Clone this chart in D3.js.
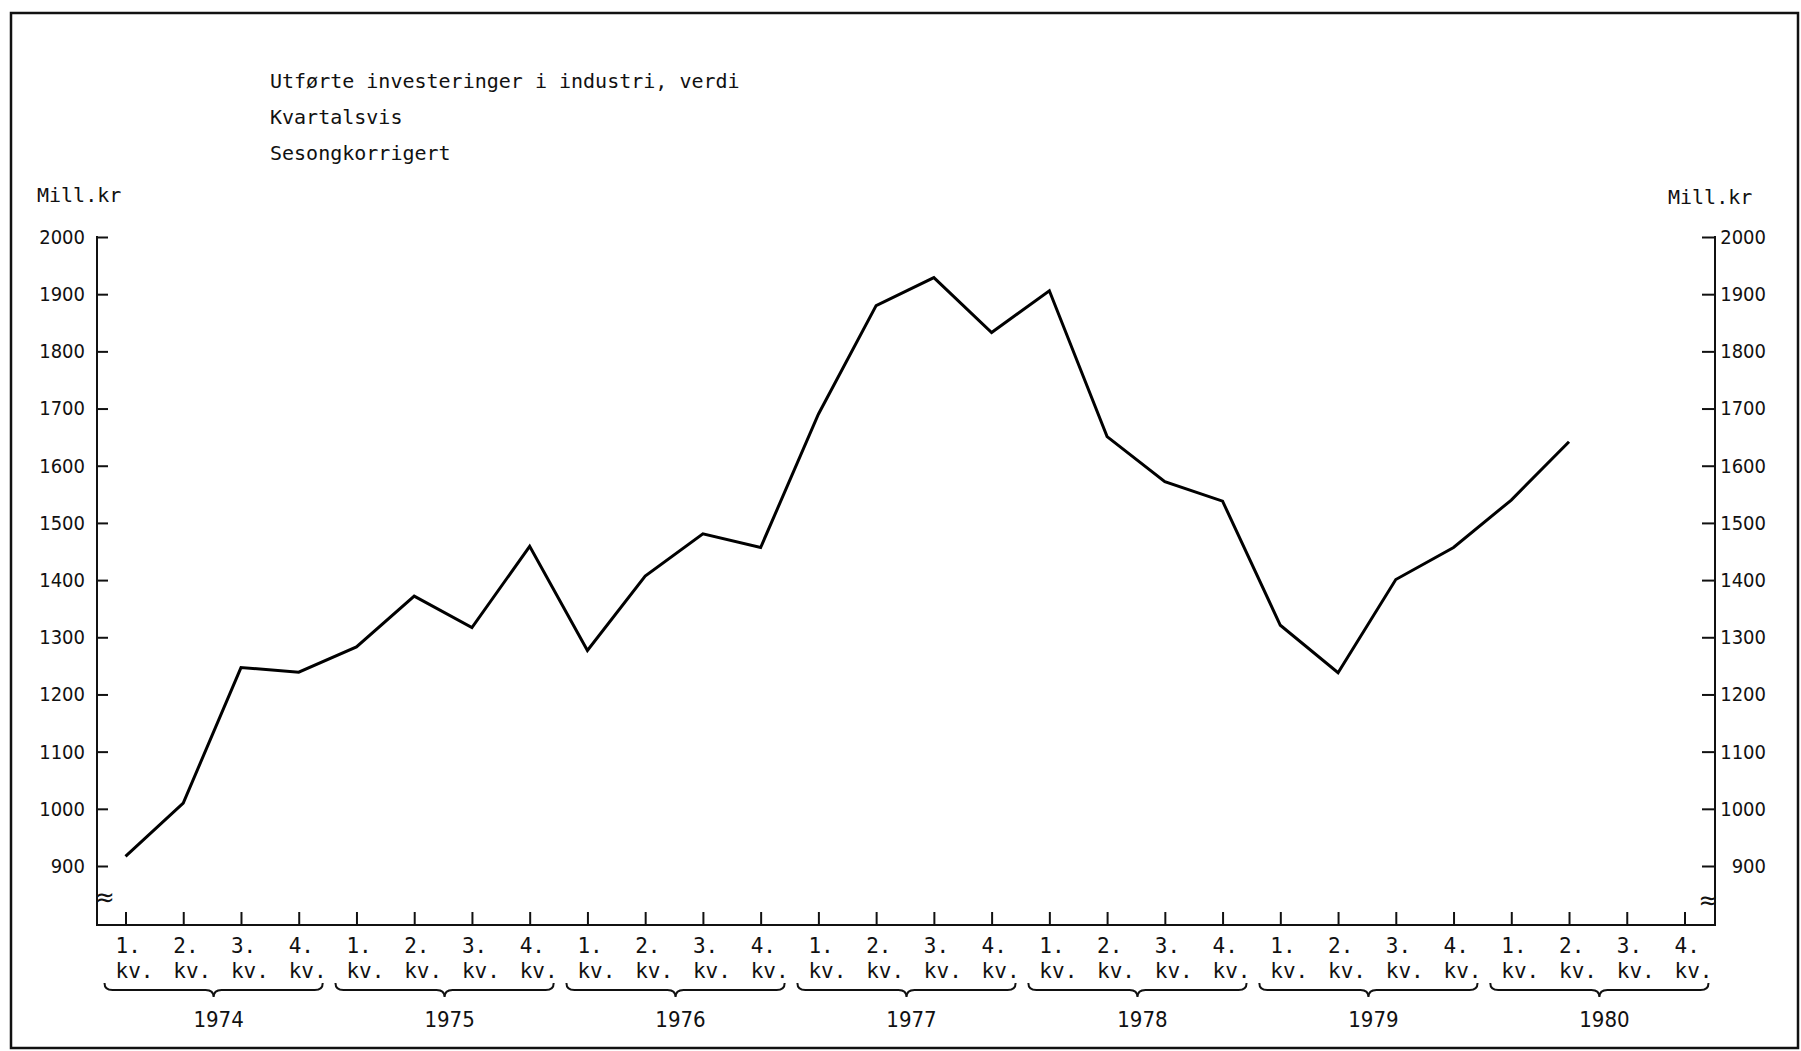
<!DOCTYPE html>
<html>
<head>
<meta charset="utf-8">
<script src="https://cdn.jsdelivr.net/npm/d3@7"></script>
<style>
  body { margin: 0; background: #fff; }
  .mono { font-family: 'DejaVu Sans Mono', 'Liberation Mono', monospace; fill: #111; }
  .cond { font-family: 'DejaVu Sans Condensed', 'DejaVu Sans', sans-serif; font-stretch: condensed; fill: #111; }
</style>
</head>
<body>
<script>
var years = ['1974', '1975', '1976', '1977', '1978', '1979', '1980'];
var quarters = ['1.', '2.', '3.', '4.'];
// Mill. kr per quarter, seasonally adjusted (last two quarters of 1980 missing)
var values1974 = [917, 1010, 1247, 1239];
var values1975 = [1283, 1372, 1317, 1459];
var values1976 = [1277, 1407, 1481, 1457];
var values1977 = [1690, 1880, 1929, 1833];
var values1978 = [1906, 1651, 1572, 1538];
var values1979 = [1321, 1238, 1401, 1457];
var values1980 = [1540, 1642, null, null];
var yTicks = [900, 1000, 1100, 1200, 1300, 1400, 1500, 1600, 1700, 1800, 1900, 2000];
var titleLines = ['Utførte investeringer i industri, verdi', 'Kvartalsvis', 'Sesongkorrigert'];

var allValues = [values1974, values1975, values1976, values1977, values1978, values1979, values1980];
var data = [];
years.forEach(function (yr, i) {
  quarters.forEach(function (q, j) {
    data.push({ key: yr + '-' + (j + 1), year: yr, q: q, value: allValues[i][j] });
  });
});

var svg = d3.select('body').append('svg').attr('width', 1801).attr('height', 1051);

var leftX = 97;
var rightX = 1715;
var baseY = 925;

var xScale = d3.scalePoint().domain(data.map(function (d) { return d.key; })).range([125.5, 1684.5]);
var yScale = d3.scaleLinear().domain([900, 2000]).range([866, 237]);

// frame
svg.append('rect')
  .attr('x', 11).attr('y', 13).attr('width', 1787).attr('height', 1035)
  .attr('fill', 'none').attr('stroke', '#111').attr('stroke-width', 2.5);

// titles
svg.selectAll('.title')
  .data(titleLines)
  .enter()
  .append('text')
  .attr('class', 'mono')
  .attr('x', 270)
  .attr('y', function (d, i) { return 88 + i * 36; })
  .attr('font-size', '20px')
  .text(function (d) { return d; });

svg.append('text').attr('class', 'mono').attr('x', 37).attr('y', 202).attr('font-size', '20px').text('Mill.kr');
svg.append('text').attr('class', 'mono').attr('x', 1668).attr('y', 204).attr('font-size', '20px').text('Mill.kr');

// left axis
var gl = svg.append('g').attr('transform', 'translate(' + leftX + ',0)');
gl.call(d3.axisLeft(yScale).tickValues(yTicks).tickSize(-11).tickPadding(12).tickFormat(d3.format('d')));
gl.select('.domain').remove();
gl.selectAll('.tick line').attr('stroke', '#111').attr('stroke-width', 2);
gl.selectAll('.tick text').attr('class', 'cond').attr('font-size', '20px').attr('fill', '#111');
gl.append('line').attr('x1', 0).attr('x2', 0).attr('y1', yScale(2000) - 1).attr('y2', baseY)
  .attr('stroke', '#111').attr('stroke-width', 2);
gl.append('text').attr('class', 'cond').attr('text-anchor', 'start')
  .attr('x', -2).attr('y', 906).attr('font-size', '26px').text('≈');

// right axis
var gr = svg.append('g').attr('transform', 'translate(' + rightX + ',0)');
gr.call(d3.axisRight(yScale).tickValues(yTicks).tickSize(-13).tickPadding(12).tickFormat(d3.format('d')));
gr.select('.domain').remove();
gr.selectAll('.tick line').attr('stroke', '#111').attr('stroke-width', 2);
gr.selectAll('.tick text').attr('class', 'cond').attr('font-size', '20px').attr('fill', '#111')
  .attr('text-anchor', 'end').attr('x', 51);
gr.append('line').attr('x1', 0).attr('x2', 0).attr('y1', yScale(2000) - 1).attr('y2', baseY)
  .attr('stroke', '#111').attr('stroke-width', 2);
gr.append('text').attr('class', 'cond').attr('text-anchor', 'end')
  .attr('x', 3).attr('y', 909).attr('font-size', '26px').text('≈');

// x axis
var gx = svg.append('g').attr('transform', 'translate(0,' + baseY + ')');
gx.call(d3.axisBottom(xScale).tickSize(-13).tickFormat(''));
gx.select('.domain').remove();
gx.selectAll('.tick line').attr('stroke', '#111').attr('stroke-width', 2);
gx.append('line').attr('x1', leftX - 1).attr('x2', rightX + 1).attr('y1', 0).attr('y2', 0)
  .attr('stroke', '#111').attr('stroke-width', 2);

// quarter labels
var ql = svg.selectAll('.ql')
  .data(data)
  .enter()
  .append('text')
  .attr('class', 'mono')
  .attr('font-size', '21px');
ql.append('tspan')
  .attr('x', function (d) { return xScale(d.key) - 10; })
  .attr('y', 953)
  .text(function (d) { return d.q; });
ql.append('tspan')
  .attr('x', function (d) { return xScale(d.key) - 10; })
  .attr('y', 978)
  .text('kv.');

// year braces
years.forEach(function (yr) {
  var x0 = xScale(yr + '-1') - 21;
  var x1 = xScale(yr + '-4') + 24;
  var mid = (x0 + x1) / 2;
  var p = d3.path();
  p.moveTo(x0, 983);
  p.quadraticCurveTo(x0, 990, x0 + 8, 990);
  p.lineTo(mid - 8, 990);
  p.quadraticCurveTo(mid, 990, mid, 997);
  p.quadraticCurveTo(mid, 990, mid + 8, 990);
  p.lineTo(x1 - 8, 990);
  p.quadraticCurveTo(x1, 990, x1, 983);
  svg.append('path').attr('d', p.toString()).attr('fill', 'none')
    .attr('stroke', '#111').attr('stroke-width', 2);
  svg.append('text')
    .attr('class', 'cond')
    .attr('x', mid + 5)
    .attr('y', 1027)
    .attr('text-anchor', 'middle')
    .attr('font-size', '22px')
    .text(yr);
});

// data line
var line = d3.line()
  .defined(function (d) { return d.value != null; })
  .x(function (d) { return xScale(d.key); })
  .y(function (d) { return yScale(d.value); });

svg.append('path')
  .datum(data)
  .attr('d', line)
  .attr('fill', 'none')
  .attr('stroke', '#000')
  .attr('stroke-width', 3)
  .attr('stroke-linejoin', 'miter');
</script>
</body>
</html>
